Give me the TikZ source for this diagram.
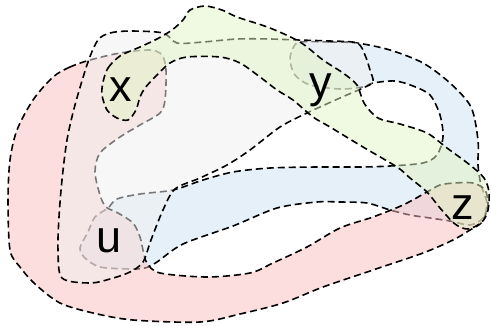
\documentclass[tikz,border=0pt]{standalone}
\usepackage{fontspec}
\setmainfont{Liberation Sans}
\definecolor{cR}{RGB}{251,190,190}
\definecolor{cB}{RGB}{204,226,242}
\definecolor{cGr}{RGB}{226,243,195}
\definecolor{cG}{RGB}{240,240,240}
\begin{document}
\begin{tikzpicture}[x=1pt,y=-1pt,
  hedge/.style={draw=black, line width=1.6pt, dash pattern=on 7pt off 4pt, fill opacity=0.5},
  lbl/.style={font=\fontsize{45}{45}\selectfont, inner sep=0pt, anchor=base}]
\useasboundingbox (0,0) rectangle (491,325);
% blue hyperedge {y, z, u}
\path[hedge, fill=cB] plot[smooth cycle, tension=0.5] coordinates {
 (300,42) (330,42) (357,43) (390,50) (423,63) (450,83) (471,107) (478,140)
 (478,165) (481,185) (487,203) (483,218) (470,225) (450,221) (430,218)
 (410,215) (390,210) (367,203) (340,202) (317,202) (277,208) (233,226)
 (183,244) (157,262) (145,268) (130,269) (100,267) (85,258) (80,248)
 (88,232) (95,217) (108,208) (117,199) (140,194) (173,190) (203,180)
 (233,172) (270,168) (317,167) (360,167) (390,166) (423,163) (437,155)
 (443,137) (440,115) (430,95) (413,86) (395,81) (373,83) (363,87)
 (340,89) (310,85) (295,75) (290,60) (293,48)};
% red hyperedge {x, u, z}
\path[hedge, fill=cR] plot[smooth cycle, tension=0.5] coordinates {
 (90,60) (70,67) (53,77) (33,100) (17,130) (10,160) (8,200) (10,250)
 (20,267) (35,284) (60,303) (93,313) (133,320) (200,322) (240,314)
 (283,303) (323,287) (373,270) (423,253) (453,240) (470,230) (482,222)
 (488,205) (485,190) (473,183) (455,183) (440,185) (427,192) (403,205)
 (373,217) (340,228) (307,247) (273,263) (250,273) (207,277) (160,273)
 (147,263) (143,250) (140,237) (133,223) (118,213) (106,207) (100,195)
 (95,172) (100,153) (120,137) (140,125) (160,113) (165,100) (166,70)
 (162,55) (150,50) (120,53)};
% gray hyperedge {x, y, u}
\path[hedge, fill=cG] plot[smooth cycle, tension=0.5] coordinates {
 (98,40) (110,33) (130,31) (163,33) (177,43) (203,42) (237,39) (270,39)
 (297,40) (330,41) (357,43) (365,55) (370,70) (373,82) (363,88) (340,98)
 (307,113) (280,127) (250,150) (227,165) (200,178) (175,189) (163,210)
 (151,240) (143,262) (130,272) (110,279) (90,283) (62,278) (58,250)
 (59,217) (62,180) (67,140) (75,105) (88,62)};
% green hyperedge {x, y, z}
\path[hedge, fill=cGr] plot[smooth cycle, tension=0.5] coordinates {
 (103,82) (108,68) (120,56) (140,47) (157,39) (172,30) (183,20) (190,10)
 (205,6) (222,10) (237,17) (270,28) (300,42) (323,60) (343,73) (357,85)
 (364,103) (378,118) (400,124) (427,133) (447,148) (470,165) (484,178)
 (489,192) (488,210) (482,222) (468,229) (455,224) (440,208) (427,192)
 (410,178) (397,167) (363,147) (330,127) (313,117) (293,100) (277,90)
 (260,77) (240,63) (220,57) (187,57) (170,63) (155,77) (145,88) (140,97)
 (136,110) (128,120) (117,118) (107,110) (102,95)};
% vertex labels
\node[lbl] (x) at (121,101) {x};
\node[lbl] (y) at (321,97) {y};
\node[lbl] (z) at (463,219) {z};
\node[lbl] (u) at (109,252) {u};
\end{tikzpicture}
\end{document}
